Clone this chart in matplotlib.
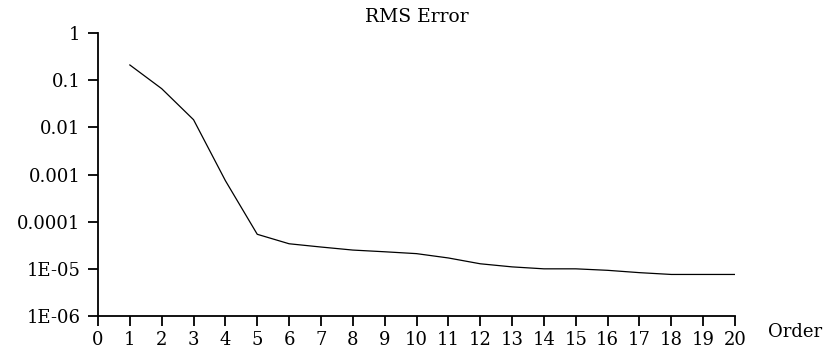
import matplotlib
matplotlib.use('Agg')
import matplotlib.pyplot as plt
from matplotlib.ticker import FixedLocator, FixedFormatter, NullLocator

# values
order = [1, 2, 3, 4, 5, 6, 7, 8, 9, 10, 11, 12, 13, 14, 15, 16, 17, 18, 19, 20]
rms_error = [0.21, 0.066, 0.0145, 7.4e-4, 5.4e-5, 3.4e-5, 2.9e-5, 2.5e-5, 2.3e-5, 2.1e-5,
             1.7e-5, 1.28e-5, 1.1e-5, 1.0e-5, 1.0e-5, 9.3e-6, 8.3e-6, 7.6e-6, 7.6e-6, 7.6e-6]

y_ticks = [1e-6, 1e-5, 1e-4, 1e-3, 1e-2, 1e-1, 1]
y_labels = ['1E-06', '1E-05', '0.0001', '0.001', '0.01', '0.1', '1']
x_ticks = list(range(0, 21))

plt.rcParams['font.family'] = ['DejaVu Serif']

fig = plt.figure(figsize=(8.25, 3.52), dpi=100)
ax = fig.add_axes([98 / 825, 1 - 316 / 352, (735 - 98) / 825, (316 - 33) / 352])

ax.plot(order, rms_error, color='black', linewidth=0.9)

ax.set_yscale('log')
ax.set_ylim(1e-6, 1)
ax.set_xlim(0, 20)

ax.yaxis.set_major_locator(FixedLocator(y_ticks))
ax.yaxis.set_major_formatter(FixedFormatter(y_labels))
ax.yaxis.set_minor_locator(NullLocator())
ax.set_xticks(x_ticks)
ax.set_xticklabels([str(v) for v in x_ticks])

for side in ['top', 'right']:
    ax.spines[side].set_visible(False)
for side in ['left', 'bottom']:
    ax.spines[side].set_linewidth(1.3)

ax.tick_params(axis='both', direction='out', length=7, width=1.3, labelsize=13)
ax.tick_params(axis='y', pad=5.5)
ax.tick_params(axis='x', pad=4)

ax.set_title('RMS Error', fontsize=13.5, pad=8)
fig.text(768 / 825, 1 - 332 / 352, 'Order', fontsize=13, ha='left', va='center')

fig.savefig('out.png', dpi=100)
